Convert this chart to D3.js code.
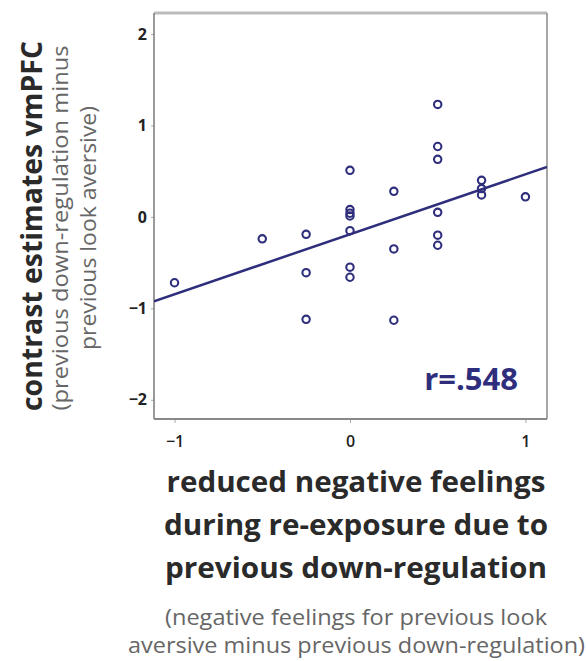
<!DOCTYPE html>
<html>
<head>
<meta charset="utf-8">
<script src="https://cdn.jsdelivr.net/npm/d3@7"></script>
<style>
  html, body { margin: 0; padding: 0; background: #fff; }
  svg { display: block; }
</style>
</head>
<body>
<div id="chart"></div>
<script>
// reduced negative feelings (x) vs. contrast estimates vmPFC (y)
const xValues = [-1, -0.5, -0.25, -0.25, -0.25, 0, 0, 0, 0, 0, 0, 0,
                 0.25, 0.25, 0.25, 0.5, 0.5, 0.5, 0.5, 0.5, 0.5,
                 0.75, 0.75, 0.75, 1];
const yValues = [-0.72, -0.24, -0.19, -0.61, -1.12, 0.51, 0.08, 0.04, 0.01, -0.15, -0.55, -0.66,
                 0.28, -0.35, -1.13, 1.23, 0.77, 0.63, 0.05, -0.20, -0.31,
                 0.40, 0.31, 0.24, 0.22];
const xTicks = [-1, 0, 1];
const yTicks = [-2, -1, 0, 1, 2];
const fitSlope = 0.656;
const fitIntercept = -0.19;
const rLabel = 'r=.548';
const xTitle = ['reduced negative feelings', 'during re-exposure due to', 'previous down-regulation'];
const xSubtitle = ['(negative feelings for previous look', 'aversive minus previous down-regulation)'];
const yTitle = 'contrast estimates vmPFC';
const ySubtitle = ['(previous down-regulation minus', 'previous look aversive)'];

const width = 586, height = 661;
const margin = { top: 13, left: 154, right: 39, bottom: 242 };
const plotW = width - margin.left - margin.right;
const plotH = height - margin.top - margin.bottom;
const navy = '#2f2e7c';
const font = '"Open Sans", "DejaVu Sans", sans-serif';

const svg = d3.select('#chart').append('svg')
    .attr('width', width)
    .attr('height', height)
    .style('background', '#fff');

const x = d3.scaleLinear().domain([-1.117, 1.123]).range([0, plotW]);
const y = d3.scaleLinear().domain([-2.21, 2.23]).range([plotH, 0]);

const g = svg.append('g').attr('transform', `translate(${margin.left},${margin.top})`);

g.append('clipPath').attr('id', 'plot-clip')
  .append('rect').attr('width', plotW).attr('height', plotH);

// axes
const yAxis = g.append('g')
    .call(d3.axisLeft(y).tickValues(yTicks).tickSize(3).tickPadding(4).tickFormat(d3.format('d')));
const xAxis = g.append('g')
    .attr('transform', `translate(0,${plotH})`)
    .call(d3.axisBottom(x).tickValues(xTicks).tickSize(4).tickPadding(13).tickFormat(d3.format('d')));

[xAxis, yAxis].forEach(a => {
    a.select('.domain').remove();
    a.selectAll('.tick line').attr('stroke', '#aaa').attr('stroke-width', 1);
    a.selectAll('.tick text').attr('fill', '#222').style('font-family', font).style('font-size', '16px');
});
yAxis.selectAll('.tick text').style('font-weight', 'bold');
xAxis.selectAll('.tick text').style('font-weight', '600');

// frame
g.append('line').attr('x1', 0).attr('x2', plotW).attr('y1', 0).attr('y2', 0)
    .attr('stroke', '#bbb').attr('stroke-width', 3);
g.append('line').attr('x1', plotW).attr('x2', plotW).attr('y1', 0).attr('y2', plotH)
    .attr('stroke', '#888').attr('stroke-width', 1.5);
g.append('line').attr('x1', 0).attr('x2', 0).attr('y1', 0).attr('y2', plotH)
    .attr('stroke', '#777').attr('stroke-width', 1.5);
g.append('line').attr('x1', 0).attr('x2', plotW).attr('y1', plotH).attr('y2', plotH)
    .attr('stroke', '#888').attr('stroke-width', 2);

// regression line
const [x0, x1] = x.domain();
g.append('line')
    .attr('clip-path', 'url(#plot-clip)')
    .attr('x1', x(x0)).attr('y1', y(fitIntercept + fitSlope * x0))
    .attr('x2', x(x1)).attr('y2', y(fitIntercept + fitSlope * x1))
    .attr('stroke', navy).attr('stroke-width', 2.5);

// points
g.append('g').selectAll('circle')
    .data(xValues.map((v, i) => [v, yValues[i]]))
    .join('circle')
    .attr('cx', d => x(d[0]))
    .attr('cy', d => y(d[1]))
    .attr('r', 3.7)
    .attr('fill', 'none')
    .attr('stroke', navy)
    .attr('stroke-width', 2.1);

// r label
g.append('text')
    .attr('x', 364).attr('y', 377)
    .attr('text-anchor', 'end')
    .attr('fill', navy)
    .style('font-family', font).style('font-weight', 'bold').style('font-size', '31px')
    .text(rLabel);

// helper: text fitted to the width it has in the figure
function fitText(sel, len) {
    return sel.attr('textLength', len).attr('lengthAdjust', 'spacingAndGlyphs');
}

// x title
const xTitleG = svg.append('g');
const xTitleLen = [379, 384, 382];
xTitle.forEach((t, i) => {
    fitText(xTitleG.append('text')
        .attr('x', 356).attr('y', 492 + i * 43)
        .attr('text-anchor', 'middle')
        .attr('fill', '#2a2a2a')
        .style('font-family', font).style('font-weight', 'bold').style('font-size', '28px')
        .text(t), xTitleLen[i]);
});
const xSubLen = [382, 457];
const xSubX = [356, 356.5];
xSubtitle.forEach((t, i) => {
    fitText(xTitleG.append('text')
        .attr('x', xSubX[i]).attr('y', 625 + i * 28)
        .attr('text-anchor', 'middle')
        .attr('fill', '#666')
        .style('font-family', font).style('font-size', '21px')
        .text(t), xSubLen[i]);
});

// y title
const yTitleG = svg.append('g');
fitText(yTitleG.append('text')
    .attr('transform', 'translate(42,226) rotate(-90)')
    .attr('text-anchor', 'middle')
    .attr('fill', '#2a2a2a')
    .style('font-family', font).style('font-weight', 'bold').style('font-size', '28px')
    .text(yTitle), 370);
const ySubLen = [365, 244];
ySubtitle.forEach((t, i) => {
    fitText(yTitleG.append('text')
        .attr('transform', `translate(${68 + i * 28},228) rotate(-90)`)
        .attr('text-anchor', 'middle')
        .attr('fill', '#666')
        .style('font-family', font).style('font-size', '21px')
        .text(t), ySubLen[i]);
});
</script>
</body>
</html>
